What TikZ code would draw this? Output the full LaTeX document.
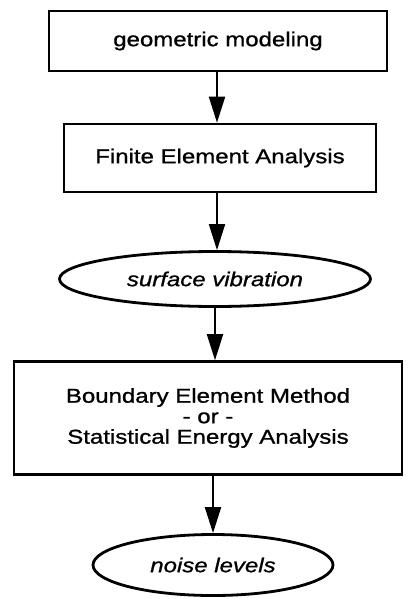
\documentclass[tikz,border=0pt]{standalone}
\usepackage{fontspec}
\setmainfont{Liberation Sans}[FakeStretch=1.2,FakeBold=1]
\usetikzlibrary{arrows.meta,shapes.geometric}
\tikzset{
  stagebox/.style={rectangle,draw,line width=2.6pt,inner sep=0pt,align=center},
  result/.style={ellipse,draw,line width=2.8pt,inner sep=0pt,font=\bigtext\itshape},
  flow/.style={-{Triangle[length=26pt,width=16pt]},line width=2pt}
}
\newcommand{\bigtext}{\fontsize{20}{20.5}\selectfont}

\begin{document}
\begin{tikzpicture}[x=1pt,y=-1pt,every node/.style={font=\bigtext}]
\useasboundingbox (0,0) rectangle (409,599);

% Processing stages and their outputs, top to bottom
\node[stagebox,minimum width=338pt,minimum height=60pt] (geom) at (218,41) {geometric modeling};
\node[stagebox,minimum width=312pt,minimum height=68pt] (fea) at (220,158) {Finite Element Analysis};
\node[result,minimum width=311pt,minimum height=55pt] (vib) at (215,279) {surface vibration};
\node[stagebox,minimum width=388pt,minimum height=113pt] (bem) at (208,418)
  {Boundary Element Method\\- or -\\Statistical Energy Analysis};
\node[result,minimum width=240pt,minimum height=61pt] (noise) at (213,565) {noise levels};

% Flow between the stages
\draw[flow] (geom.south -| 217,0) -- (fea.north -| 217,0);
\draw[flow] (fea.south -| 217,0) -- (vib.north -| 217,0);
\draw[flow] (vib) -- (vib |- bem.north);
\draw[flow] (bem.south -| noise.north) -- (noise);

\end{tikzpicture}
\end{document}
